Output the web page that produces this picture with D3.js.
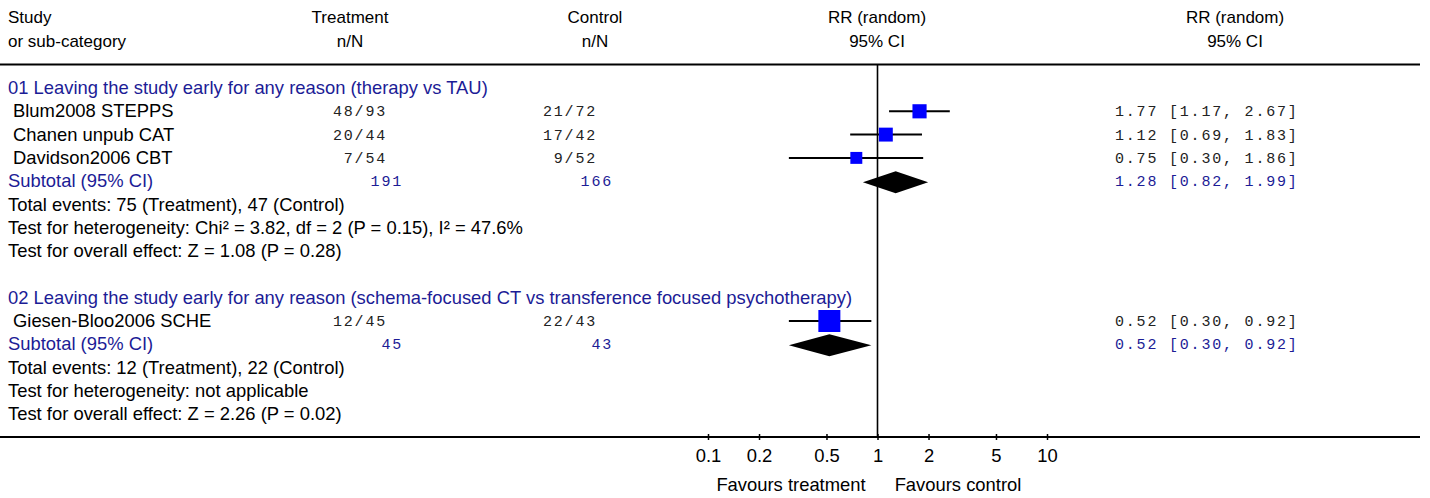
<!DOCTYPE html>
<html>
<head>
<meta charset="utf-8">
<script src="https://cdn.jsdelivr.net/npm/d3@7"></script>
<style>
  body { margin: 0; background: #fff; }
  svg text { font-family: "Liberation Sans", Arial, sans-serif; font-size: 18.4px; }
  svg text.head { font-size: 17px; }
  .mono { font-family: "Liberation Mono", "Courier New", monospace; font-size: 15px; letter-spacing: 1.8px; fill: #222; }
  .blue { fill: #1c1c96; }
</style>
</head>
<body>
<svg id="chart" width="1430" height="498"></svg>
<script>
// study rows
const studies = ["Blum2008 STEPPS", "Chanen unpub CAT", "Davidson2006 CBT", "Giesen-Bloo2006 SCHE"];
const studyGroup = [1, 1, 1, 2];
const treatN = ["48/93", "20/44", "7/54", "12/45"];
const controlN = ["21/72", "17/42", "9/52", "22/43"];
const rr = [1.77, 1.12, 0.75, 0.52];
const lower = [1.17, 0.69, 0.30, 0.30];
const upper = [2.67, 1.83, 1.86, 0.92];
const weights = [39.6, 37.8, 22.6, 100]; // % within subgroup, guessed from box size

// subgroups
const groupTitles = [
  "01 Leaving the study early for any reason (therapy vs TAU)",
  "02 Leaving the study early for any reason (schema-focused CT vs transference focused psychotherapy)"
];
const subTreat = ["191", "45"];
const subControl = ["166", "43"];
const subRR = [1.28, 0.52];
const subLower = [0.82, 0.30];
const subUpper = [1.99, 0.92];
const totalEvents = ["Total events: 75 (Treatment), 47 (Control)", "Total events: 12 (Treatment), 22 (Control)"];
const heterogeneity = ["Test for heterogeneity: Chi\u00b2 = 3.82, df = 2 (P = 0.15), I\u00b2 = 47.6%", "Test for heterogeneity: not applicable"];
const overall = ["Test for overall effect: Z = 1.08 (P = 0.28)", "Test for overall effect: Z = 2.26 (P = 0.02)"];

const tickValues = [0.1, 0.2, 0.5, 1, 2, 5, 10];

var svg = d3.select("#chart");

var x = d3.scaleLog().domain([0.1, 10]).range([708, 1047]);
var rowY = i => 88 + i * 23.3;
var boxSize = d3.scaleLinear().domain([0, 100]).range([9, 22]);

function fmt(v) { return v.toFixed(2); }

// header
var head = svg.append("g");
[["Study", 8, "start"], ["Treatment", 350, "middle"], ["Control", 595, "middle"], ["RR (random)", 877, "middle"], ["RR (random)", 1235, "middle"]]
  .forEach(h => head.append("text").attr("class", "head").attr("x", h[1]).attr("y", 23).attr("text-anchor", h[2]).text(h[0]));
[["or sub-category", 8, "start"], ["n/N", 350, "middle"], ["n/N", 595, "middle"], ["95% CI", 877, "middle"], ["95% CI", 1235, "middle"]]
  .forEach(h => head.append("text").attr("class", "head").attr("x", h[1]).attr("y", 47).attr("text-anchor", h[2]).text(h[0]));

svg.append("line").attr("x1", 0).attr("x2", 1420).attr("y1", 64.5).attr("y2", 64.5)
  .attr("stroke", "#000").attr("stroke-width", 2);
svg.append("line").attr("x1", 0).attr("x2", 1420).attr("y1", 437).attr("y2", 437)
  .attr("stroke", "#000").attr("stroke-width", 2);

// line of no effect
svg.append("line").attr("x1", x(1)).attr("x2", x(1)).attr("y1", 64).attr("y2", 437)
  .attr("stroke", "#000").attr("stroke-width", 1.6);

// build rows: group title, studies, subtotal, 3 text lines, blank
var row = 0;
groupTitles.forEach((title, g) => {
  svg.append("text").attr("class", "blue").attr("x", 8).attr("y", rowY(row) + 6).text(title);
  row++;
  studies.forEach((s, i) => {
    if (studyGroup[i] !== g + 1) return;
    var y = rowY(row);
    svg.append("text").attr("x", 13).attr("y", y + 6).text(s);
    svg.append("text").attr("class", "mono").attr("x", 387).attr("y", y + 5).attr("text-anchor", "end").text(treatN[i]);
    svg.append("text").attr("class", "mono").attr("x", 597).attr("y", y + 5).attr("text-anchor", "end").text(controlN[i]);
    svg.append("text").attr("class", "mono").attr("x", 1115).attr("y", y + 5)
      .text(fmt(rr[i]) + " [" + fmt(lower[i]) + ", " + fmt(upper[i]) + "]");
    svg.append("line").attr("x1", x(lower[i])).attr("x2", x(upper[i])).attr("y1", y).attr("y2", y)
      .attr("stroke", "#000").attr("stroke-width", 2);
    var b = boxSize(weights[i]);
    svg.append("rect").attr("x", x(rr[i]) - b / 2).attr("y", y - b / 2).attr("width", b).attr("height", b)
      .attr("fill", "#0000ff");
    row++;
  });
  var y = rowY(row);
  svg.append("text").attr("class", "blue").attr("x", 8).attr("y", y + 6).text("Subtotal (95% CI)");
  svg.append("text").attr("class", "mono blue").attr("x", 403).attr("y", y + 5).attr("text-anchor", "end").text(subTreat[g]);
  svg.append("text").attr("class", "mono blue").attr("x", 613).attr("y", y + 5).attr("text-anchor", "end").text(subControl[g]);
  svg.append("text").attr("class", "mono blue").attr("x", 1115).attr("y", y + 5)
    .text(fmt(subRR[g]) + " [" + fmt(subLower[g]) + ", " + fmt(subUpper[g]) + "]");
  var dy = y + 1;
  svg.append("path")
    .attr("d", `M${x(subLower[g])},${dy} L${x(subRR[g])},${dy - 11} L${x(subUpper[g])},${dy} L${x(subRR[g])},${dy + 11} Z`)
    .attr("fill", "#000");
  row++;
  [totalEvents[g], heterogeneity[g], overall[g]].forEach(t => {
    svg.append("text").attr("x", 8).attr("y", rowY(row) + 6).text(t);
    row++;
  });
  row++;
});

// axis
var axis = svg.append("g").attr("transform", "translate(0,437)")
  .call(d3.axisBottom(x).tickValues(tickValues).tickFormat(d => d).tickSize(3));
axis.select(".domain").remove();
axis.selectAll(".tick line").attr("y1", -3).attr("y2", 3).attr("stroke-width", 1.5);
axis.selectAll(".tick text").attr("y", 12).attr("font-size", 17).attr("fill", "#000")
  .attr("font-family", "Liberation Sans, Arial, sans-serif");

svg.append("text").attr("x", 791).attr("y", 491).attr("text-anchor", "middle").text("Favours treatment");
svg.append("text").attr("x", 958).attr("y", 491).attr("text-anchor", "middle").text("Favours control");
</script>
</body>
</html>
